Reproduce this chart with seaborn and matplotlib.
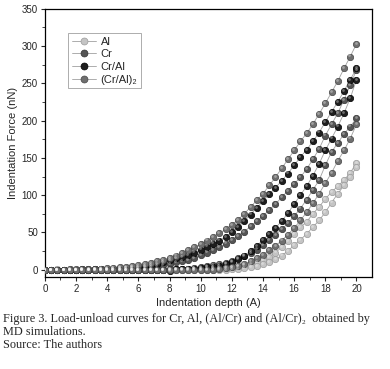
import numpy as np
import pandas as pd
import seaborn as sns
import matplotlib.pyplot as plt
from matplotlib.lines import Line2D

# depth sampled every 0.4 A, 0..20
depth = [round(0.4 * i, 1) for i in range(51)]

al_load = [0, 0, 0.5, 0, 0.5, 0, 0.5, 0, 0.5, 0, 0.5, 0, 0.5, 0, 0.5, 0, 0.5, 0.5, 0.5, 0.5,
           0.5, 0.5, 0.5, 1, 1, 1, 1, 1.5, 2, 3, 4, 5, 6, 7.5, 10, 13, 17, 23, 30, 38,
           48, 57, 64, 75, 84, 95, 104, 112, 120, 130, 143]
al_unload = [0, 0, 0, 0, 0, 0, 0, 0, 0, 0, 0, 0, 0, 0, 0, 0, 0, 0, 0, 0,
             0, 0, 0, 0, 0, 0, 0, 0, 0, 0, 0.5, 1, 2, 3, 5, 7, 10, 14, 19, 25,
             33, 40, 48, 57, 66, 77, 90, 102, 113, 124, 138]
cr_load = [0, 0, 0, 0, 0, 0, 0, 0, 0.5, 0.5, 1, 1, 1.5, 1.5, 2, 2, 3, 4, 5, 6.5,
           8, 10, 11.5, 13, 15, 20, 23, 26, 30, 35, 40, 45, 51, 58, 65, 72, 80, 88, 97, 106,
           115, 124, 135, 148, 162, 180, 195, 210, 228, 248, 268]
cr_unload = [0, 0, 0, 0, 0, 0, 0, 0, 0, 0, 0, 0, 0, 0, 0, 0, 0, 0, 0, 0,
             1, 1, 1, 1.5, 2, 4, 5, 6, 7, 9, 12, 15, 18, 22, 27, 33, 40, 47, 54, 62,
             72, 82, 94, 107, 120, 140, 158, 170, 182, 192, 203]
cral_load = [0, 0, 0, 0, 0, 0, 0.5, 0.5, 0.5, 1, 1, 1.5, 2, 2.5, 3, 4, 5, 6.5, 8, 10,
             13, 15, 17, 20, 23, 27, 31, 35, 39, 44, 50, 57, 65, 74, 83, 92, 101, 110, 119, 129,
             140, 151, 161, 172, 184, 198, 212, 225, 240, 255, 270]
cral_unload = [0, 0, 0, 0, 0, 0, 0, 0, 0, 0, 0, 0, 0, 0, 0, 0, 0, 0, 0, 0,
               -2, 0.5, 1, 1, 1.5, 2, 3, 4, 5, 7, 10, 14, 19, 25, 32, 40, 48, 56, 65, 76,
               88, 100, 112, 126, 142, 160, 176, 192, 210, 230, 255]
cral2_load = [0, 0, 0, 0, 0.5, 0.5, 1, 1, 1, 1.5, 2, 2, 3, 3.5, 4.5, 6, 7, 9, 11, 13,
              16, 19, 22, 26, 30, 34, 39, 44, 49, 54, 60, 67, 75, 84, 93, 102, 113, 124, 136, 148,
              160, 172, 183, 195, 209, 223, 238, 253, 270, 286, 303]
cral2_unload = [0, 0, 0, 0, 0, 0, 0, 0, 0, 0, 0, 0, 0, 0, 0, 0, 0, 0, 0, 0,
                0, 0, 0, 0, 0, 0, 0, 0, 1, 2, 3, 5, 8, 11, 15, 20, 26, 32, 39, 47,
                56, 66, 77, 89, 102, 116, 130, 146, 160, 176, 195]

materials = ["Al", "Cr", "Cr/Al", "(Cr/Al)₂"]
colors = {"Al": "#c4c4c4", "Cr": "#555555", "Cr/Al": "#1e1e1e", "(Cr/Al)₂": "#6f6f6f"}
edges = {"Al": "#9a9a9a", "Cr": "#333333", "Cr/Al": "#000000", "(Cr/Al)₂": "#474747"}

curves = {
    ("Al", "load"): al_load, ("Al", "unload"): al_unload,
    ("Cr", "load"): cr_load, ("Cr", "unload"): cr_unload,
    ("Cr/Al", "load"): cral_load, ("Cr/Al", "unload"): cral_unload,
    ("(Cr/Al)₂", "load"): cral2_load, ("(Cr/Al)₂", "unload"): cral2_unload,
}
rows = []
for (mat, branch), vals in curves.items():
    for d, f in zip(depth, vals):
        rows.append({"depth": d, "force": f, "material": mat, "curve": mat + branch})
df = pd.DataFrame(rows)

sns.set_style("ticks")
plt.rcParams["font.family"] = ["Liberation Sans", "DejaVu Sans"]

fig = plt.figure(figsize=(3.9, 3.69), dpi=100)
ax = fig.add_axes([0.115, 0.249, 0.839, 0.727])

sns.lineplot(data=df, x="depth", y="force", units="curve", estimator=None, sort=False,
             color="#a0a0a0", lw=0.6, legend=False, ax=ax)
for mat in materials:
    sub = df[df.material == mat]
    sns.scatterplot(data=sub, x="depth", y="force", color=colors[mat], edgecolor=edges[mat],
                    linewidth=0.5, s=21, legend=False, ax=ax, zorder=3)
    # small highlight to give a shaded-sphere look
    sns.scatterplot(x=sub.depth - 0.06, y=sub.force + 1.5, color="white", alpha=0.35,
                    s=4, linewidth=0, legend=False, ax=ax, zorder=4)

ax.set_xlim(0, 21)
ax.set_ylim(-10, 350)
ax.set_xticks(range(0, 21, 2))
ax.set_xticks(range(1, 21, 2), minor=True)
ax.set_yticks(range(0, 351, 50))
ax.set_yticks(range(25, 351, 50), minor=True)
ax.tick_params(labelsize=7, length=3, width=0.8, direction="out", pad=2)
ax.tick_params(which="minor", length=2, width=0.6)
for s in ax.spines.values():
    s.set_linewidth(0.9)
    s.set_color("black")
ax.set_xlabel("Indentation depth (A)", fontsize=8, labelpad=3)
ax.set_ylabel("Indentation Force (nN)", fontsize=8, labelpad=3)

handles = [Line2D([0], [0], color="#a0a0a0", lw=0.6, marker="o", markersize=5,
                  markerfacecolor=colors[m], markeredgecolor=edges[m], markeredgewidth=0.5)
           for m in materials]
leg = ax.legend(handles, materials, loc="upper left", bbox_to_anchor=(0.055, 0.93),
                fontsize=8, frameon=True, fancybox=False, handlelength=2.2,
                borderpad=0.3, labelspacing=0.25, handletextpad=0.4)
leg.get_frame().set_edgecolor("#888888")
leg.get_frame().set_linewidth(0.6)

caption = ("Figure 3. Load-unload curves for Cr, Al, (Al/Cr) and (Al/Cr)₂  obtained by\n"
           "MD simulations.\nSource: The authors")
fig.text(0.008, 0.152, caption, ha="left", va="top", fontsize=8.8,
         family=["Liberation Serif", "DejaVu Serif"], linespacing=1.12)

fig.savefig("out.png", dpi=100)
